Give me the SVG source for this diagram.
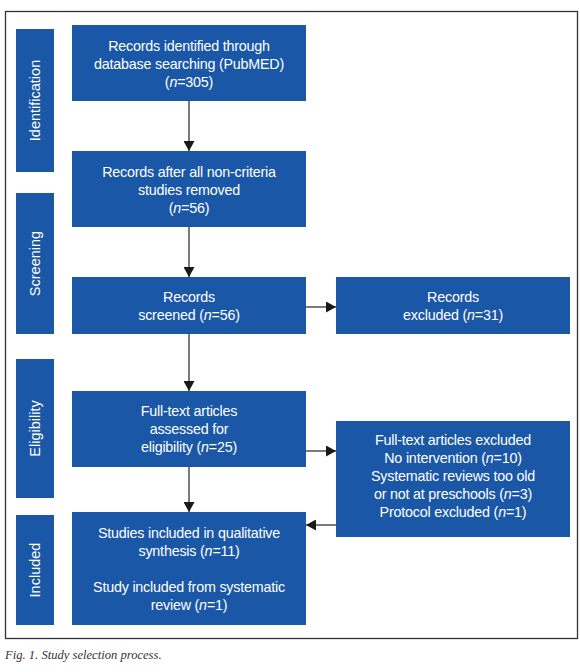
<svg xmlns="http://www.w3.org/2000/svg" width="580" height="672" viewBox="0 0 580 672">
<defs>
<style>
.box{fill:#1a57a6}
.t{fill:#fff;font-family:"Liberation Sans",Arial,sans-serif;font-size:14.3px;text-anchor:middle;letter-spacing:-0.2px}
.side{fill:#fff;font-family:"Liberation Sans",Arial,sans-serif;font-size:14.5px;text-anchor:middle}
.c{stroke:#333;stroke-width:1.3;fill:none;marker-end:url(#ah)}
.cap{fill:#333;font-family:"Liberation Serif","Times New Roman",serif;font-style:italic;font-size:12.6px}
</style>
<marker id="ah" markerUnits="userSpaceOnUse" markerWidth="11" markerHeight="11" refX="10" refY="5.5" orient="auto">
<path d="M0,0 L10,5.5 L0,11 z" fill="#1a1a1a"/>
</marker>
</defs>
<rect x="5.5" y="11.5" width="572" height="627" fill="none" stroke="#333" stroke-width="1.3"/>
<g id="side-identification"><rect class="box" x="16" y="29" width="38" height="143"/><text class="side" transform="translate(40,100.5) rotate(-90)">Identification</text></g>
<g id="side-screening"><rect class="box" x="16" y="193" width="38" height="141"/><text class="side" transform="translate(40,263.5) rotate(-90)">Screening</text></g>
<g id="side-eligibility"><rect class="box" x="16" y="359" width="38" height="139"/><text class="side" transform="translate(40,428.5) rotate(-90)">Eligibility</text></g>
<g id="side-included"><rect class="box" x="16" y="515" width="38" height="110"/><text class="side" transform="translate(40,570) rotate(-90)">Included</text></g>
<g id="n1"><rect class="box" x="72" y="25" width="234" height="76"/>
<text class="t" x="189" y="51">Records identified through</text>
<text class="t" x="189" y="69">database searching (PubMED)</text>
<text class="t" x="189" y="87">(<tspan font-style="italic">n</tspan>=305)</text></g>
<g id="n2"><rect class="box" x="72" y="151" width="234" height="76"/>
<text class="t" x="189" y="177">Records after all non-criteria</text>
<text class="t" x="189" y="195">studies removed</text>
<text class="t" x="189" y="213">(<tspan font-style="italic">n</tspan>=56)</text></g>
<g id="n3"><rect class="box" x="72" y="277" width="234" height="57"/>
<text class="t" x="189" y="302">Records</text>
<text class="t" x="189" y="320">screened (<tspan font-style="italic">n</tspan>=56)</text></g>
<g id="n4"><rect class="box" x="336" y="277" width="234" height="57"/>
<text class="t" x="453" y="302">Records</text>
<text class="t" x="453" y="320">excluded (<tspan font-style="italic">n</tspan>=31)</text></g>
<g id="n5"><rect class="box" x="72" y="391" width="234" height="76"/>
<text class="t" x="189" y="416">Full-text articles</text>
<text class="t" x="189" y="434">assessed for</text>
<text class="t" x="189" y="452">eligibility (<tspan font-style="italic">n</tspan>=25)</text></g>
<g id="n6"><rect class="box" x="336" y="421" width="234" height="116"/>
<text class="t" x="453" y="445">Full-text articles excluded</text>
<text class="t" x="453" y="463">No intervention (<tspan font-style="italic">n</tspan>=10)</text>
<text class="t" x="453" y="481">Systematic reviews too old</text>
<text class="t" x="453" y="499">or not at preschools (<tspan font-style="italic">n</tspan>=3)</text>
<text class="t" x="453" y="517">Protocol excluded (<tspan font-style="italic">n</tspan>=1)</text></g>
<g id="n7"><rect class="box" x="72" y="512" width="234" height="113"/>
<text class="t" x="189" y="538">Studies included in qualitative</text>
<text class="t" x="189" y="556">synthesis (<tspan font-style="italic">n</tspan>=11)</text>
<text class="t" x="189" y="592">Study included from systematic</text>
<text class="t" x="189" y="610">review (<tspan font-style="italic">n</tspan>=1)</text></g>
<g id="connectors">
<line class="c" x1="189" y1="101" x2="189" y2="151"/>
<line class="c" x1="189" y1="227" x2="189" y2="277"/>
<line class="c" x1="189" y1="334" x2="189" y2="391"/>
<line class="c" x1="189" y1="467" x2="189" y2="512"/>
<line class="c" x1="306" y1="307" x2="336" y2="307"/>
<line class="c" x1="306" y1="451" x2="336" y2="451"/>
<line class="c" x1="336" y1="525" x2="306" y2="525"/>
</g>
<text class="cap" x="5" y="659">Fig. 1. Study selection process.</text>
</svg>
